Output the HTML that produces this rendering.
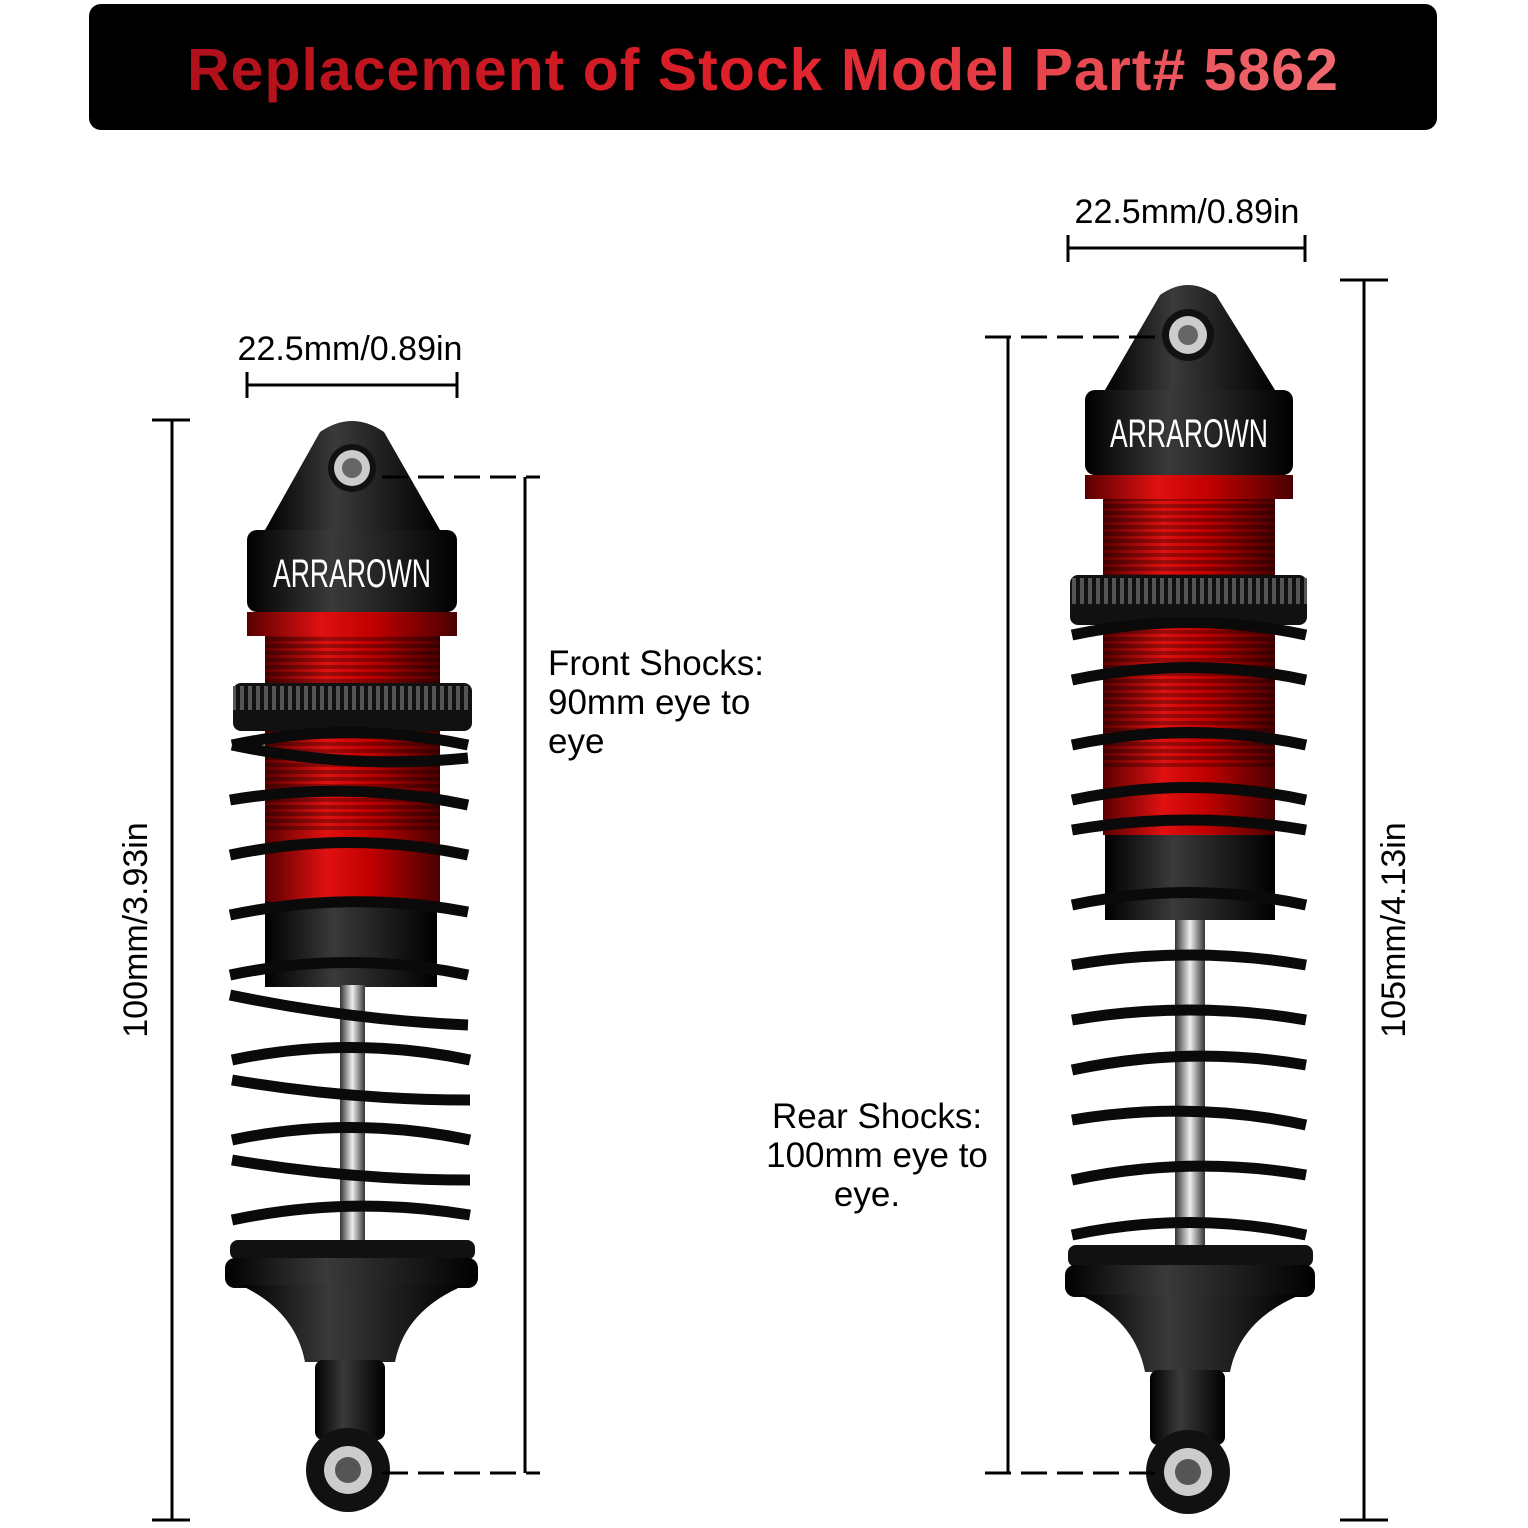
<!DOCTYPE html>
<html><head><meta charset="utf-8"><style>
html,body{margin:0;padding:0;background:#fff;}
svg{display:block;}
text{font-family:"Liberation Sans",sans-serif;}
</style></head><body>
<svg width="1528" height="1528" viewBox="0 0 1528 1528" xmlns="http://www.w3.org/2000/svg">
<defs>
<linearGradient id="tg" x1="0" x2="1" y1="0" y2="0">
<stop offset="0" stop-color="#b0101a"/><stop offset="0.5" stop-color="#e0202a"/><stop offset="1" stop-color="#f06a70"/></linearGradient>
<linearGradient id="red" x1="0" x2="1"><stop offset="0" stop-color="#5a0000"/><stop offset="0.35" stop-color="#e01010"/><stop offset="0.6" stop-color="#c00000"/><stop offset="1" stop-color="#4a0000"/></linearGradient>
<linearGradient id="blk" x1="0" x2="1"><stop offset="0" stop-color="#000"/><stop offset="0.4" stop-color="#3a3a3a"/><stop offset="1" stop-color="#000"/></linearGradient>
<linearGradient id="rod" x1="0" x2="1"><stop offset="0" stop-color="#333"/><stop offset="0.5" stop-color="#eee"/><stop offset="1" stop-color="#333"/></linearGradient>
<pattern id="thr" width="10" height="7" patternUnits="userSpaceOnUse"><rect width="10" height="4" fill="#000" opacity="0.3"/></pattern>
<pattern id="knurl" width="8" height="10" patternUnits="userSpaceOnUse"><rect width="4" height="10" fill="#555"/></pattern>
</defs>
<rect x="89" y="4" width="1348" height="126" rx="12" fill="#000"/>
<text x="763" y="90" text-anchor="middle" font-size="59" font-weight="bold" letter-spacing="1" fill="url(#tg)">Replacement of Stock Model Part# 5862</text>

<!-- LEFT SHOCK -->
<g>
<path d="M265 530 L320 432 Q352 410 384 432 L440 530 Z" fill="url(#blk)"/>
<circle cx="352" cy="468" r="24" fill="#111"/><circle cx="352" cy="468" r="18" fill="#ccc"/><circle cx="352" cy="468" r="10" fill="#666"/>
<rect x="247" y="530" width="210" height="82" rx="10" fill="url(#blk)"/>
<text x="352" y="587" text-anchor="middle" font-size="40" fill="#fff" textLength="158" lengthAdjust="spacingAndGlyphs">ARRAROWN</text>
<rect x="247" y="612" width="210" height="24" fill="url(#red)"/>
<rect x="265" y="636" width="175" height="50" fill="url(#red)"/><rect x="265" y="636" width="175" height="50" fill="url(#thr)"/>
<rect x="265" y="730" width="175" height="100" fill="url(#red)"/><rect x="265" y="730" width="175" height="100" fill="url(#thr)"/>
<rect x="265" y="830" width="175" height="72" fill="url(#red)"/>
<rect x="265" y="902" width="172" height="85" fill="url(#blk)"/>
<rect x="340" y="985" width="25" height="255" fill="url(#rod)"/>
<rect x="233" y="683" width="239" height="48" rx="8" fill="#111"/><rect x="233" y="686" width="239" height="24" fill="url(#knurl)"/>
<g fill="none" stroke="#0a0a0a" stroke-width="11">
<path d="M232 745 Q350 720 468 745"/><path d="M232 745 Q350 770 468 758"/>
<path d="M230 800 Q350 780 468 805"/><path d="M230 855 Q350 830 468 855"/>
<path d="M230 915 Q350 890 468 912"/><path d="M230 975 Q350 950 468 975"/>
<path d="M230 995 Q350 1020 468 1025"/><path d="M232 1060 Q350 1035 470 1060"/>
<path d="M232 1080 Q350 1100 470 1100"/><path d="M232 1140 Q350 1115 470 1140"/>
<path d="M232 1160 Q350 1180 470 1180"/><path d="M232 1220 Q350 1195 470 1215"/>
</g>
<rect x="230" y="1240" width="245" height="20" rx="8" fill="#111"/>
<rect x="225" y="1258" width="253" height="30" rx="10" fill="url(#blk)"/>
<path d="M240 1285 L465 1285 Q405 1310 395 1362 L305 1362 Q295 1310 240 1285Z" fill="url(#blk)"/>
<rect x="315" y="1360" width="70" height="80" rx="8" fill="url(#blk)"/>
<circle cx="348" cy="1470" r="42" fill="#111"/><circle cx="348" cy="1470" r="24" fill="#ccc"/><circle cx="348" cy="1470" r="13" fill="#555"/>
</g>

<!-- RIGHT SHOCK -->
<g>
<path d="M1105 390 L1160 295 Q1188 275 1216 295 L1275 390 Z" fill="url(#blk)"/>
<circle cx="1188" cy="335" r="26" fill="#111"/><circle cx="1188" cy="335" r="19" fill="#ccc"/><circle cx="1188" cy="335" r="10" fill="#666"/>
<rect x="1085" y="390" width="208" height="85" rx="10" fill="url(#blk)"/>
<text x="1189" y="447" text-anchor="middle" font-size="40" fill="#fff" textLength="158" lengthAdjust="spacingAndGlyphs">ARRAROWN</text>
<rect x="1085" y="475" width="208" height="24" fill="url(#red)"/>
<rect x="1103" y="499" width="172" height="80" fill="url(#red)"/><rect x="1103" y="499" width="172" height="80" fill="url(#thr)"/>
<rect x="1103" y="625" width="172" height="145" fill="url(#red)"/><rect x="1103" y="625" width="172" height="145" fill="url(#thr)"/>
<rect x="1103" y="770" width="172" height="65" fill="url(#red)"/>
<rect x="1105" y="835" width="170" height="85" fill="url(#blk)"/>
<rect x="1175" y="920" width="30" height="335" fill="url(#rod)"/>
<rect x="1070" y="575" width="237" height="50" rx="8" fill="#111"/><rect x="1070" y="578" width="237" height="26" fill="url(#knurl)"/>
<g fill="none" stroke="#0a0a0a" stroke-width="11">
<path d="M1072 635 Q1190 610 1306 635"/><path d="M1072 680 Q1190 655 1306 680"/>
<path d="M1072 745 Q1190 720 1306 745"/><path d="M1072 800 Q1190 775 1306 800"/>
<path d="M1072 830 Q1190 810 1306 830"/><path d="M1072 905 Q1190 880 1306 905"/>
<path d="M1072 965 Q1190 945 1306 965"/><path d="M1072 1020 Q1190 1000 1306 1020"/>
<path d="M1072 1070 Q1190 1045 1306 1065"/><path d="M1072 1120 Q1190 1100 1306 1125"/>
<path d="M1072 1180 Q1190 1155 1306 1175"/><path d="M1072 1235 Q1190 1210 1306 1235"/>
</g>
<rect x="1068" y="1245" width="245" height="22" rx="8" fill="#111"/>
<rect x="1065" y="1265" width="250" height="32" rx="10" fill="url(#blk)"/>
<path d="M1080 1295 L1300 1295 Q1240 1320 1230 1372 L1145 1372 Q1135 1320 1080 1295Z" fill="url(#blk)"/>
<rect x="1150" y="1370" width="75" height="75" rx="8" fill="url(#blk)"/>
<circle cx="1188" cy="1472" r="42" fill="#111"/><circle cx="1188" cy="1472" r="24" fill="#ccc"/><circle cx="1188" cy="1472" r="13" fill="#555"/>
</g>

<!-- dimensions -->
<g stroke="#000" stroke-width="3" fill="none">
<line x1="172" y1="420" x2="172" y2="1520"/><line x1="152" y1="420" x2="190" y2="420"/><line x1="152" y1="1520" x2="190" y2="1520"/>
<line x1="247" y1="385" x2="457" y2="385"/><line x1="247" y1="372" x2="247" y2="398"/><line x1="457" y1="372" x2="457" y2="398"/>
<line x1="525" y1="477" x2="525" y2="1473"/>
<line x1="1364" y1="280" x2="1364" y2="1520"/><line x1="1340" y1="280" x2="1388" y2="280"/><line x1="1340" y1="1520" x2="1388" y2="1520"/>
<line x1="1068" y1="248" x2="1305" y2="248"/><line x1="1068" y1="235" x2="1068" y2="262"/><line x1="1305" y1="235" x2="1305" y2="262"/>
<line x1="1008" y1="337" x2="1008" y2="1473"/>
</g>
<g stroke="#000" stroke-width="3" stroke-dasharray="26,10">
<line x1="382" y1="477" x2="540" y2="477"/><line x1="382" y1="1473" x2="540" y2="1473"/>
<line x1="985" y1="337" x2="1160" y2="337"/><line x1="985" y1="1473" x2="1160" y2="1473"/>
</g>
<g font-size="34" fill="#000">
<text x="350" y="360" text-anchor="middle">22.5mm/0.89in</text>
<text x="1187" y="223" text-anchor="middle">22.5mm/0.89in</text>
<text transform="translate(147,930) rotate(-90)" text-anchor="middle">100mm/3.93in</text>
<text transform="translate(1405,930) rotate(-90)" text-anchor="middle">105mm/4.13in</text>
</g>
<g font-size="35" fill="#000">
<text x="548" y="675">Front Shocks:</text>
<text x="548" y="714">90mm eye to</text>
<text x="548" y="753">eye</text>
<text x="877" y="1128" text-anchor="middle">Rear Shocks:</text>
<text x="877" y="1167" text-anchor="middle">100mm eye to</text>
<text x="867" y="1206" text-anchor="middle">eye.</text>
</g>
</svg>
</body></html>
